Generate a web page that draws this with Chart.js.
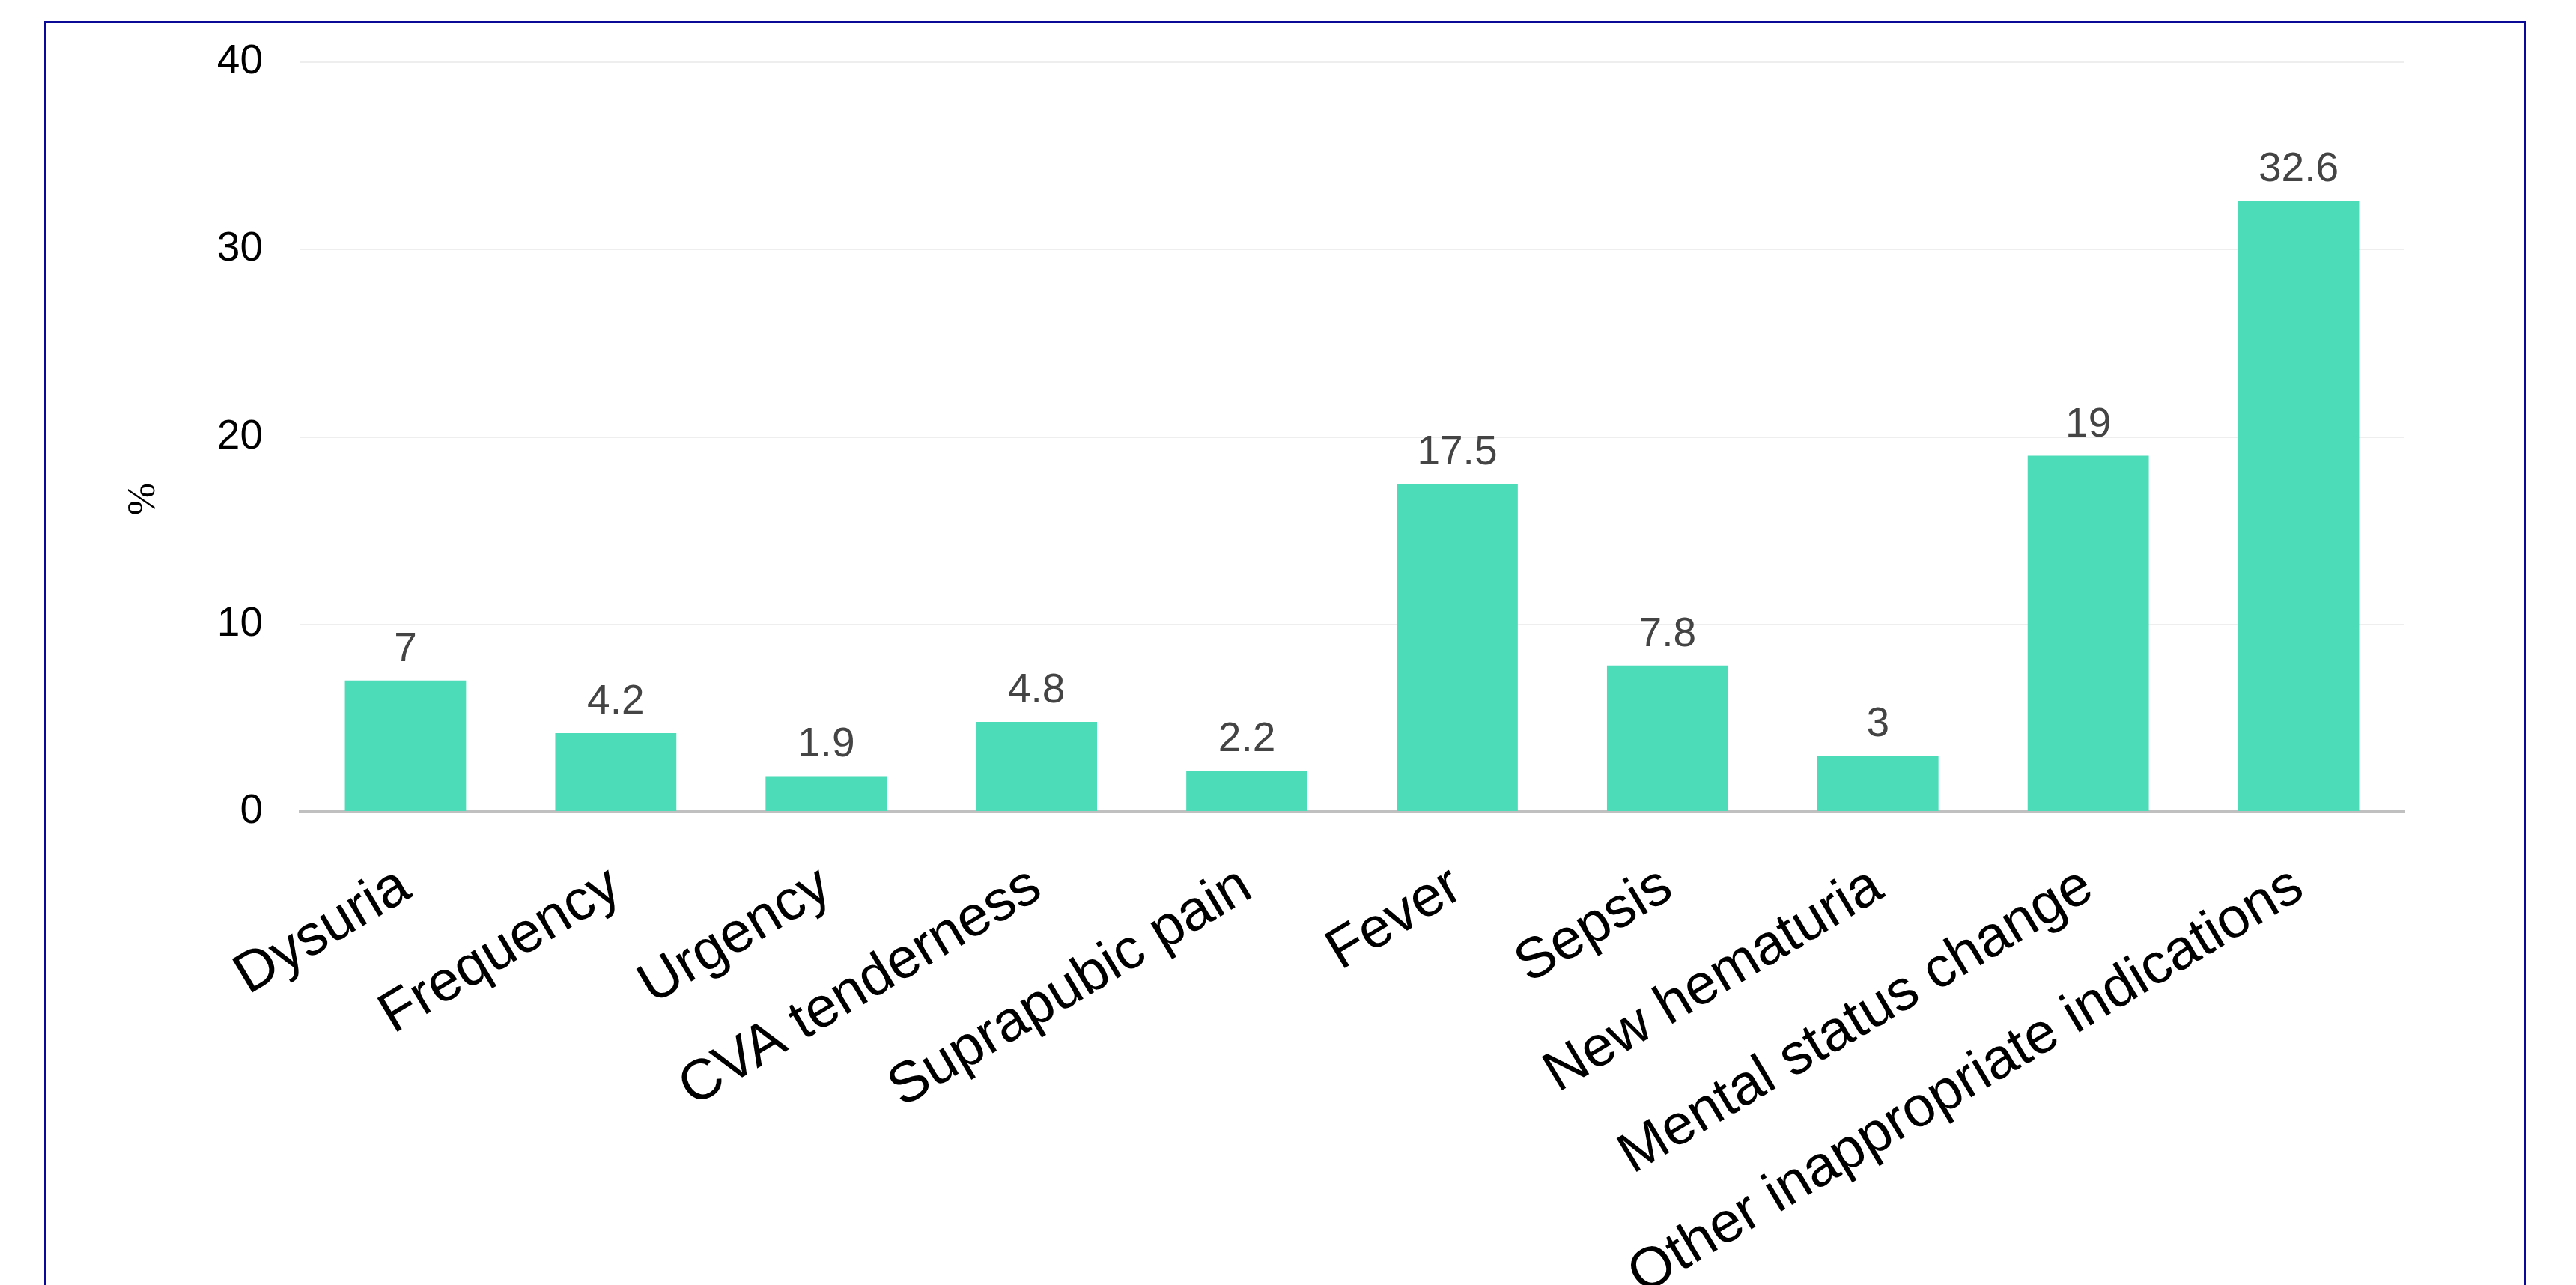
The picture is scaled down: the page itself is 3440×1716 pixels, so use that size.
<!DOCTYPE html>
<html>
<head>
<meta charset="utf-8">
<script src="https://cdn.jsdelivr.net/npm/chart.js@4/dist/chart.umd.min.js"></script>
<style>
  html, body { margin: 0; padding: 0; background: #fff; overflow: hidden; }
  #frame {
    position: absolute; left: 59px; top: 28px;
    width: 3314px; height: 1900px;
    border: 3px solid #0a0a96; box-sizing: border-box;
  }
  #wrap { position: absolute; left: 0; top: 0; width: 3440px; height: 1900px; }
</style>
</head>
<body>
<div id="frame"></div>
<div id="wrap"><canvas id="chart"></canvas></div>
<script>
'use strict';

var categories = ['Dysuria', 'Frequency', 'Urgency', 'CVA tenderness', 'Suprapubic pain',
  'Fever', 'Sepsis', 'New hematuria', 'Mental status change', 'Other inappropriate indications'];
var shares = [7, 4.2, 1.9, 4.8, 2.2, 17.5, 7.8, 3, 19, 32.6];
var yTicks = [0, 10, 20, 30, 40];
var axisTitle = '%';

var sansFont = '"Liberation Sans", Arial, sans-serif';

//value above each bar, plus the rotated "%" title which sits below the axis middle
var valueLabels = {
  id: 'valueLabels',
  afterDatasetsDraw: function(chart) {
    var ctx = chart.ctx;
    var meta = chart.getDatasetMeta(0);
    var area = chart.chartArea;
    ctx.save();
    ctx.font = '55px ' + sansFont;
    ctx.fillStyle = '#444444';
    ctx.textAlign = 'center';
    ctx.textBaseline = 'alphabetic';
    meta.data.forEach(function(bar, i) {
      ctx.fillText(String(shares[i]), bar.x, bar.y - 26);
    });

    ctx.translate(chart.scales.y.left + 42, area.top + (area.bottom - area.top) * 0.583);
    ctx.rotate(-Math.PI / 2);
    ctx.font = '52px "Liberation Serif", "Times New Roman", serif';
    ctx.fillStyle = '#000000';
    ctx.textBaseline = 'middle';
    ctx.fillText(axisTitle, 0, 0);
    ctx.restore();
  }
};

var ctx = document.getElementById('chart').getContext('2d');
var barChart = new Chart(ctx, {
  type: 'bar',
  data: {
    labels: categories,
    datasets: [{
      data: shares,
      backgroundColor: '#4ddcb8',
      borderWidth: 0,
      categoryPercentage: 0.8,
      barPercentage: 0.72
    }]
  },
  options: {
    responsive: true,
    maintainAspectRatio: false,
    devicePixelRatio: 1,
    animation: false,
    layout: { padding: { top: 83, left: 150, right: 230, bottom: 0 } },
    plugins: {
      legend: { display: false },
      tooltip: { enabled: false }
    },
    scales: {
      x: {
        afterFit: function(scale) { scale.height = 1900 - 1084; },
        grid: { display: false },
        border: { display: true, color: '#c0c0c0', width: 4 },
        ticks: {
          minRotation: 31,
          maxRotation: 31,
          autoSkip: false,
          padding: 47,
          color: '#000000',
          font: { family: sansFont, size: 76 }
        }
      },
      y: {
        afterFit: function(scale) { scale.width = 251; },
        min: yTicks[0],
        max: yTicks[yTicks.length - 1],
        afterBuildTicks: function(scale) {
          scale.ticks = yTicks.map(function(v) { return { value: v }; });
        },
        grid: { color: '#eeeeee', lineWidth: 2, drawTicks: false },
        border: { display: false },
        ticks: {
          padding: 50,
          color: '#000000',
          font: { family: sansFont, size: 55 }
        }
      }
    }
  },
  plugins: [valueLabels]
});
</script>
</body>
</html>
